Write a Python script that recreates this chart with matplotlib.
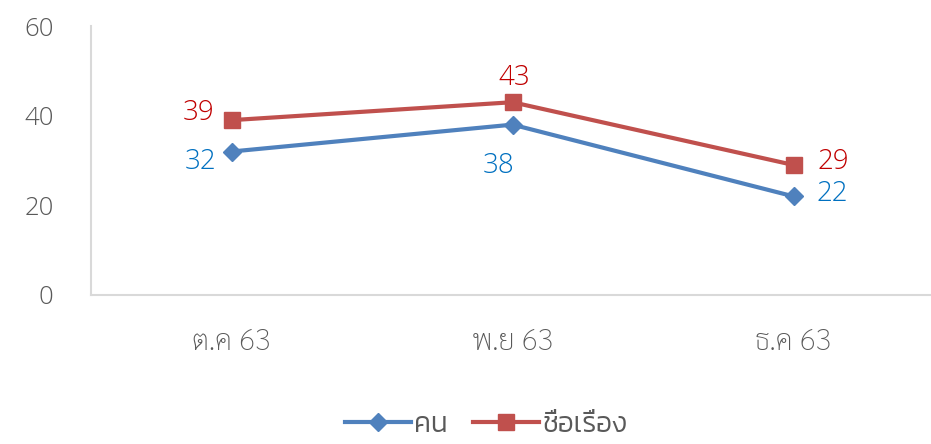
import matplotlib
matplotlib.use("Agg")
import matplotlib.pyplot as plt
from matplotlib.font_manager import FontProperties

categories = ["ต.ค 63", "พ.ย 63", "ธ.ค 63"]
people = [32, 38, 22]
titles = [39, 43, 29]
series_names = ["คน", "ชื่อเรื่อง"]
yticks = [0, 20, 40, 60]

num_font = ["Open Sans", "DejaVu Sans"]
tick_thai = FontProperties(family=["Sarabun", "DejaVu Sans"], weight=200, size=21)
leg_thai = FontProperties(family=["Kanit", "DejaVu Sans"], weight=300, size=20)

fig = plt.figure(figsize=(9.31, 4.44), dpi=100)
ax = fig.add_axes([91 / 931, 149 / 444, (934 - 91) / 931, (295 - 26) / 444])

blue = "#4F81BD"
red = "#C0504D"
x = list(range(len(categories)))
ax.plot(x, people, color=blue, lw=3, marker="D", markersize=9.5, label=series_names[0])
ax.plot(x, titles, color=red, lw=3, marker="s", markersize=11, label=series_names[1])

ax.set_xlim(-0.5, 2.5)
ax.set_ylim(0, 60)
ax.set_yticks(yticks)
ax.set_yticklabels([str(v) for v in yticks], fontsize=18.5, color="#595959",
                   family=num_font, weight=300)
ax.set_xticks(x)
ax.set_xticklabels(categories, color="#595959", fontproperties=tick_thai)
ax.tick_params(axis="y", length=0, pad=27)
ax.tick_params(axis="x", length=0, pad=24)
for s in ["top", "right"]:
    ax.spines[s].set_visible(False)
for s in ["left", "bottom"]:
    ax.spines[s].set_color("#D9D9D9")
    ax.spines[s].set_linewidth(1.5)

blue_off = [(-31, -10), (-14, -41), (39, 2)]
red_off = [(-33, 7), (2, 24), (40, 3)]
for i in x:
    ax.annotate(str(people[i]), (i, people[i]), xytext=blue_off[i], textcoords="offset pixels",
                ha="center", va="center", fontsize=20, color="#0070C0",
                family=num_font, weight=300)
    ax.annotate(str(titles[i]), (i, titles[i]), xytext=red_off[i], textcoords="offset pixels",
                ha="center", va="center", fontsize=20, color="#C00000",
                family=num_font, weight=300)

leg = fig.legend(loc="center", bbox_to_anchor=(0.522, 19 / 444), ncol=2, frameon=False,
                 prop=leg_thai, handlelength=2.4, handletextpad=0.1, columnspacing=0.9,
                 borderpad=0, borderaxespad=0)
for t in leg.get_texts():
    t.set_color("#595959")

fig.savefig("out.png", dpi=100)
